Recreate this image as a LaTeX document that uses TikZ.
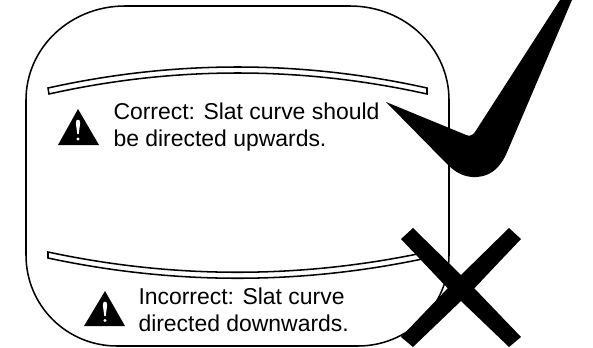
\documentclass[tikz,border=0pt]{standalone}
\usepackage{fontspec}
\setmainfont{Liberation Sans}
\tikzset{every picture/.style={line width=0.75pt}}
\tikzset{slat/.style={fill=white,line width=1.15pt,line join=miter},
  caption/.style={anchor=north west,inner sep=0.75pt,align=left,font=\fontsize{17.2}{20.3}\selectfont}}

\begin{document}
\begin{tikzpicture}[x=0.75pt,y=0.75pt,yscale=-1,xscale=1]
\clip (0,0) rectangle (593,347);

%Shape: Rounded Rectangle [id:outline]
\draw [line width=1.15pt] (125,6) -- (350,6) .. controls (405,6) and (449,48) .. (449,100) -- (449,255) .. controls (449,306) and (408,346) .. (358,346) -- (117,346) .. controls (67,346) and (26,306) .. (26,255) -- (26,100) .. controls (26,48) and (70,6) .. (125,6) -- cycle ;
%Shape: Slat upper [id:slatup]
\draw [slat] (48,88) .. controls (174,60) and (301,60) .. (427,88) -- (427,94) .. controls (301,66) and (174,66) .. (49,94) -- cycle ;
%Shape: Slat lower [id:slatdown]
\draw [slat] (48,252) .. controls (174,279) and (301,279) .. (427,252) -- (427,258) .. controls (301,285) and (174,285) .. (48,258) -- cycle ;
%Shape: Triangle upper [id:warnup]
\draw [fill=black,draw=none] (78,109) -- (99,145) -- (58,145) -- cycle ;
\draw [fill=white,draw=none] (75.8,123) .. controls (75.8,118.5) and (80.2,118.5) .. (80.2,123) -- (78.7,134) -- (77.3,134) -- cycle ;
\draw [fill=white,draw=none] (78,139) circle [radius=1.7] ;
%Shape: Triangle lower [id:warndown]
\draw [fill=black,draw=none] (105,291) -- (125,326) -- (84,326) -- cycle ;
\draw [fill=white,draw=none] (102.8,305) .. controls (102.8,300.5) and (107.2,300.5) .. (107.2,305) -- (105.7,316) -- (104.3,316) -- cycle ;
\draw [fill=white,draw=none] (105,320.5) circle [radius=1.7] ;
%Shape: Check [id:check]
\draw [fill=black,draw=none] (386,102) -- (465,134.5) .. controls (469,136.5) and (472,136) .. (475,132) -- (560,0) -- (572,0) -- (508,150) .. controls (500,170) and (488,178) .. (472,177) .. controls (462,176) and (455,172) .. (447,164) -- cycle ;
%Shape: Cross [id:cross]
\draw [fill=black,draw=none] (413,228) -- (461,275) -- (509,228) -- (521,239) -- (474.3,288.3) -- (521,337) -- (509,347) -- (461,301) -- (413,347) -- (401,337) -- (447.7,288.3) -- (401,239) -- cycle ;

% Text Node
\node (correct) at (112,101.5) [caption] {Correct: Slat curve should\\be directed upwards.};
% Text Node
\node (incorrect) at (137,286.5) [caption] {Incorrect: Slat curve\\directed downwards.};

\end{tikzpicture}
\end{document}
